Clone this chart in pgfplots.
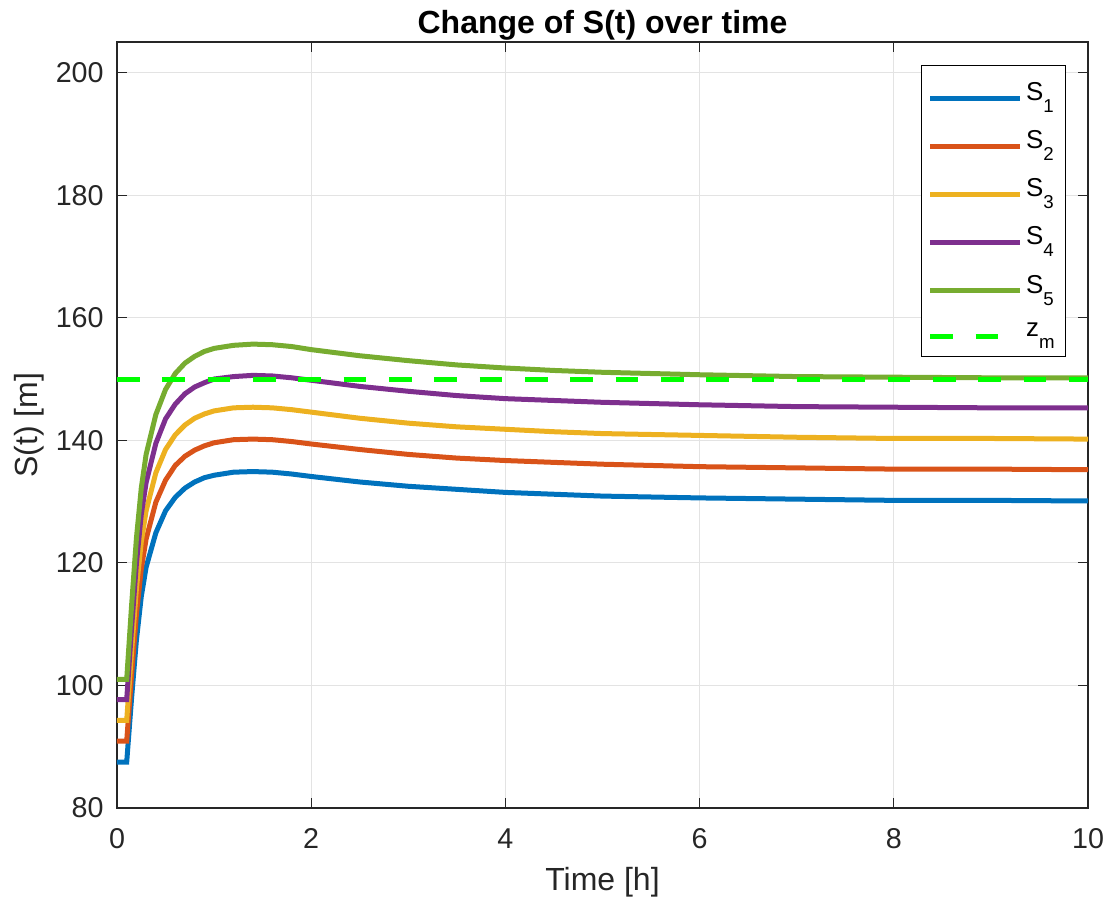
\documentclass[border=0pt]{standalone}
\usepackage{pgfplots}
\pgfplotsset{compat=1.18}
\usepackage{fontspec}
\setmainfont{Liberation Sans}
\definecolor{c1}{rgb}{0,0.447,0.741}
\definecolor{c2}{rgb}{0.85,0.325,0.098}
\definecolor{c3}{rgb}{0.929,0.694,0.125}
\definecolor{c4}{rgb}{0.494,0.184,0.556}
\definecolor{c5}{rgb}{0.466,0.674,0.188}
\definecolor{axgray}{rgb}{0.15,0.15,0.15}
\newcommand{\sub}[1]{\raisebox{-9pt}{\fontsize{14}{14}\selectfont #1}}
\begin{document}
\begin{tikzpicture}[x=1pt,y=1pt]
\begin{axis}[
  at={(0,0)}, anchor=south west,
  scale only axis,
  width=728.25pt, height=574.5pt,
  xmin=0, xmax=10, ymin=80, ymax=205,
  xtick={0,2,...,10}, ytick={80,100,...,200},
  tick align=inside, tick pos=both,
  major tick length=7.5pt,
  axis line style={axgray, line width=0.8pt},
  every tick/.style={axgray, line width=0.8pt},
  grid=major,
  major grid style={gray!22, line width=0.8pt},
  tick label style={font=\fontsize{21.5}{24}\selectfont, text=axgray},
  xticklabel style={yshift=-12pt},
  yticklabel style={xshift=-6.5pt},
  /pgf/number format/assume math mode=true,
  xlabel={Time [h]}, ylabel={S(t) [m]},
  label style={font=\fontsize{24}{28}\selectfont, text=axgray},
  xlabel style={yshift=-7pt},
  ylabel style={yshift=2pt},
  title={\bfseries Change of S(t) over time},
  title style={font=\fontsize{24}{28}\selectfont, yshift=-8.5pt},
  legend style={at={(0.977,0.970)}, anchor=north east, draw=black, line width=0.6pt,
    font=\fontsize{19.4}{22}\selectfont, row sep=15pt, inner xsep=5pt, inner ysep=10pt,
    nodes={inner sep=3pt}},
  legend cell align=left,
  legend image code/.code={\draw[#1] (0pt,-4pt) -- (67pt,-4pt);},
  every axis plot/.append style={line width=3.75pt},
]
\addplot[c1] coordinates {(0,87.5)(0.1,87.5)(0.15,97.9)(0.2,107.4)(0.25,114.5)(0.3,119.3)(0.4,124.9)(0.5,128.5)(0.6,130.7)(0.7,132.2)(0.8,133.2)(0.9,133.9)(1.0,134.3)(1.2,134.8)(1.4,134.9)(1.6,134.8)(1.8,134.5)(2.0,134.1)(2.5,133.2)(3.0,132.5)(3.5,132.0)(4.0,131.5)(4.5,131.2)(5.0,130.9)(6.0,130.6)(7.0,130.4)(8.0,130.2)(9.0,130.2)(10,130.1)};
\addlegendentry{S\sub{1}}
\addplot[c2] coordinates {(0,90.9)(0.1,90.9)(0.15,101.7)(0.2,111.6)(0.25,119.0)(0.3,123.9)(0.4,129.9)(0.5,133.5)(0.6,135.9)(0.7,137.4)(0.8,138.4)(0.9,139.1)(1.0,139.6)(1.2,140.1)(1.4,140.2)(1.6,140.1)(1.8,139.8)(2.0,139.4)(2.5,138.5)(3.0,137.7)(3.5,137.1)(4.0,136.7)(4.5,136.4)(5.0,136.1)(6.0,135.7)(7.0,135.5)(8.0,135.3)(9.0,135.3)(10,135.2)};
\addlegendentry{S\sub{2}}
\addplot[c3] coordinates {(0,94.3)(0.1,94.3)(0.15,105.5)(0.2,115.8)(0.25,123.4)(0.3,128.5)(0.4,134.7)(0.5,138.5)(0.6,140.9)(0.7,142.5)(0.8,143.6)(0.9,144.3)(1.0,144.8)(1.2,145.3)(1.4,145.4)(1.6,145.3)(1.8,145.0)(2.0,144.6)(2.5,143.6)(3.0,142.8)(3.5,142.2)(4.0,141.8)(4.5,141.4)(5.0,141.1)(6.0,140.8)(7.0,140.5)(8.0,140.3)(9.0,140.3)(10,140.2)};
\addlegendentry{S\sub{3}}
\addplot[c4] coordinates {(0,97.7)(0.1,97.7)(0.15,109.3)(0.2,119.9)(0.25,127.9)(0.3,133.1)(0.4,139.5)(0.5,143.5)(0.6,145.9)(0.7,147.6)(0.8,148.7)(0.9,149.4)(1.0,150.0)(1.2,150.4)(1.4,150.6)(1.6,150.5)(1.8,150.2)(2.0,149.8)(2.5,148.8)(3.0,148.0)(3.5,147.3)(4.0,146.8)(4.5,146.5)(5.0,146.2)(6.0,145.8)(7.0,145.5)(8.0,145.4)(9.0,145.3)(10,145.3)};
\addlegendentry{S\sub{4}}
\addplot[c5] coordinates {(0,101.0)(0.1,101.0)(0.15,113.0)(0.2,124.0)(0.25,132.2)(0.3,137.7)(0.4,144.2)(0.5,148.3)(0.6,150.9)(0.7,152.6)(0.8,153.7)(0.9,154.5)(1.0,155.0)(1.2,155.5)(1.4,155.7)(1.6,155.6)(1.8,155.3)(2.0,154.8)(2.5,153.8)(3.0,153.0)(3.5,152.3)(4.0,151.8)(4.5,151.4)(5.0,151.1)(6.0,150.7)(7.0,150.4)(8.0,150.3)(9.0,150.2)(10,150.2)};
\addlegendentry{S\sub{5}}
\addplot[green, dash pattern=on 17pt off 17pt] coordinates {(0,150)(10,150)};
\addlegendentry{z\sub{m}}
\end{axis}
\pgfresetboundingbox
\path (-87.75pt,-68.25pt) rectangle (744.75pt,606pt);
\end{tikzpicture}
\end{document}
